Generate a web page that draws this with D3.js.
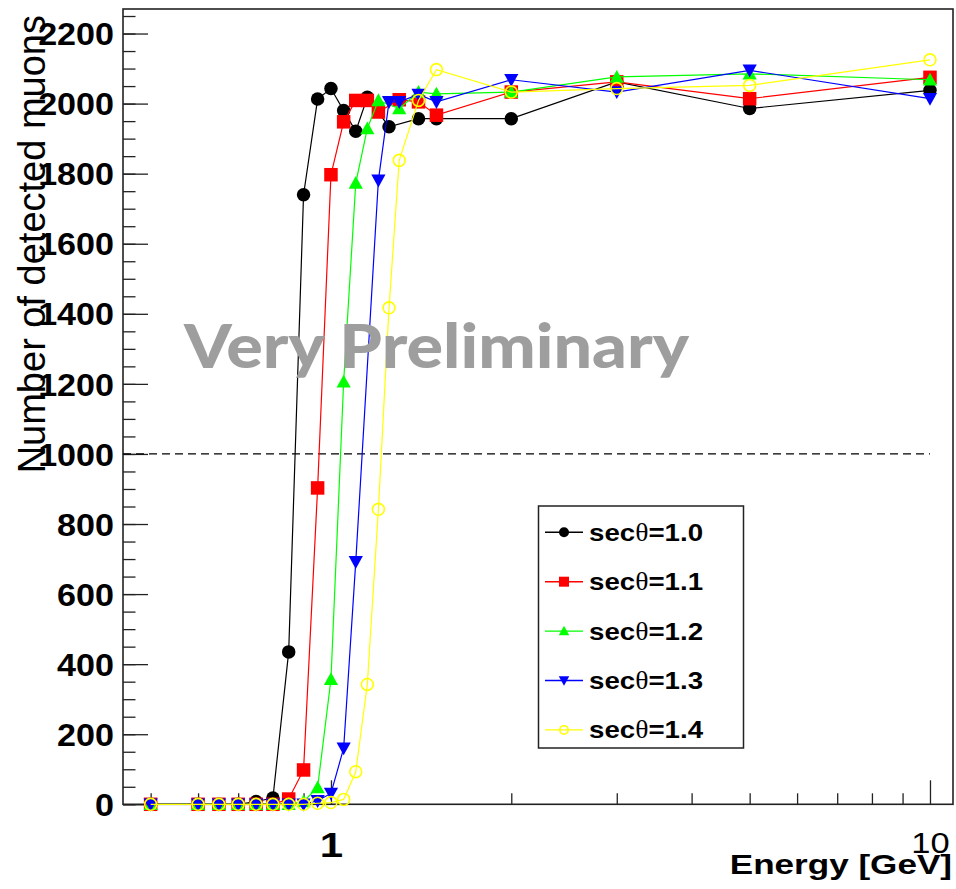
<!DOCTYPE html>
<html>
<head>
<meta charset="utf-8">
<script src="https://cdn.jsdelivr.net/npm/d3@7"></script>
<style>
  html, body { margin: 0; padding: 0; background: #fff; }
  svg { display: block; }
</style>
</head>
<body>
<svg id="chart" width="956" height="889"></svg>
<script>
// Detected muon counts versus muon energy for five zenith angles (sec θ)
const seriesNames = ["secθ=1.0", "secθ=1.1", "secθ=1.2", "secθ=1.3", "secθ=1.4"];
const seriesColors = ["#000000", "#ff0000", "#00ff00", "#0000ff", "#ffff00"];
const seriesMarkers = ["circle", "square", "triangleUp", "triangleDown", "openCircle"];

const energy10 = [0.5, 0.6, 0.65, 0.7, 0.75, 0.8, 0.85, 0.9, 0.95, 1.0, 1.05, 1.1, 1.15, 1.25, 1.4, 1.5, 2, 3, 5, 10];
const counts10 = [0, 0, 0, 0, 8, 18, 435, 1740, 2013, 2043, 1980, 1921, 2018, 1934, 1957, 1957, 1957, 2062, 1986, 2038];

const energy11 = [0.5, 0.6, 0.65, 0.7, 0.75, 0.8, 0.85, 0.9, 0.95, 1.0, 1.05, 1.1, 1.15, 1.2, 1.3, 1.4, 1.5, 2, 3, 5, 10];
const counts11 = [0, 0, 0, 0, 0, 0, 15, 98, 903, 1797, 1948, 2009, 2009, 1976, 2011, 2005, 1967, 2033, 2062, 2014, 2075];

const energy12 = [0.5, 0.6, 0.65, 0.7, 0.75, 0.8, 0.85, 0.9, 0.95, 1.0, 1.05, 1.1, 1.15, 1.2, 1.3, 1.4, 1.5, 2, 3, 5, 10];
const counts12 = [0, 0, 0, 0, 0, 0, 0, 8, 48, 357, 1206, 1773, 1929, 2009, 1986, 2033, 2028, 2033, 2076, 2085, 2068];

const energy13 = [0.5, 0.6, 0.65, 0.7, 0.75, 0.8, 0.85, 0.9, 0.95, 1.0, 1.05, 1.1, 1.2, 1.25, 1.3, 1.4, 1.5, 2, 3, 5, 10];
const counts13 = [0, 0, 0, 0, 0, 0, 0, 0, 10, 31, 160, 692, 1781, 2005, 2005, 2026, 2005, 2068, 2033, 2095, 2014];

const energy14 = [0.5, 0.6, 0.65, 0.7, 0.75, 0.8, 0.85, 0.9, 0.95, 1.0, 1.05, 1.1, 1.15, 1.2, 1.25, 1.3, 1.4, 1.5, 2, 3, 5, 10];
const counts14 = [0, 0, 0, 0, 0, 0, 0, 0, 3, 5, 14, 93, 342, 842, 1417, 1838, 2009, 2097, 2033, 2043, 2052, 2125];

const yMajorTicks = [0, 200, 400, 600, 800, 1000, 1200, 1400, 1600, 1800, 2000, 2200];
const yMinorTicks = d3.range(0, 2251, 50);
const xMinorTicks = [0.5, 0.6, 0.7, 0.8, 0.9, 2, 3, 4, 5, 6, 7, 8, 9];
const xMajorTicks = [1, 10];
const thresholdLevel = 1000;

const xTitle = "Energy [GeV]";
const yTitle = "Number of detected muons";
const stampText = "Very Preliminary";

const seriesData = [
  { energy: energy10, counts: counts10 },
  { energy: energy11, counts: counts11 },
  { energy: energy12, counts: counts12 },
  { energy: energy13, counts: counts13 },
  { energy: energy14, counts: counts14 }
].map((s, i) => ({
  name: seriesNames[i], color: seriesColors[i], marker: seriesMarkers[i],
  points: s.energy.map((e, j) => ({ e, n: s.counts[j] }))
}));

// ---- layout ----
const svg = d3.select("#chart");
const frame = { left: 123, right: 953, top: 9, bottom: 804.3 };

const x = d3.scaleLog().domain([0.4496, 10.925]).range([frame.left, frame.right]);
const y = d3.scaleLinear().domain([0, 2270]).range([frame.bottom, frame.top]);

const FONT = "'Liberation Sans', Arial, Helvetica, sans-serif";

// ---- axes ----
const yMinorAxis = d3.axisLeft(y).tickValues(yMinorTicks).tickSizeInner(-12.5).tickSizeOuter(0).tickFormat("");
const yMajorAxis = d3.axisLeft(y).tickValues(yMajorTicks).tickSizeInner(-25).tickSizeOuter(0)
  .tickPadding(8).tickFormat(d3.format("d"));

const gyMinor = svg.append("g").attr("transform", `translate(${frame.left},0)`).call(yMinorAxis);
const gyMajor = svg.append("g").attr("transform", `translate(${frame.left},0)`).call(yMajorAxis);

const xMinorAxis = d3.axisBottom(x).tickValues(xMinorTicks).tickSizeInner(-11).tickSizeOuter(0).tickFormat("");
const xMajorAxis = d3.axisBottom(x).tickValues(xMajorTicks).tickSizeInner(-24).tickSizeOuter(0).tickFormat(d3.format("d"));

const gxMinor = svg.append("g").attr("transform", `translate(0,${frame.bottom})`).call(xMinorAxis);
const gxMajor = svg.append("g").attr("transform", `translate(0,${frame.bottom})`).call(xMajorAxis);

[gyMinor, gyMajor, gxMinor, gxMajor].forEach(g => {
  g.select(".domain").remove();
  g.selectAll(".tick line").attr("stroke", "#222").attr("stroke-width", 1.3);
});

gyMajor.selectAll(".tick text")
  .attr("x", null)
  .attr("dy", "0.36em")
  .attr("transform", "translate(-9,0) scale(1.1,1)")
  .attr("font-family", FONT)
  .attr("font-weight", "bold")
  .attr("font-size", 31)
  .attr("fill", "#000");

gxMajor.selectAll(".tick text")
  .attr("y", null).attr("dy", null)
  .attr("font-family", FONT)
  .attr("fill", "#000")
  .each(function (d) {
    const t = d3.select(this);
    if (d === 1) {
      t.attr("font-weight", "bold").attr("font-size", 35)
       .attr("transform", "translate(0,53) scale(1.2,1)");
    } else {
      t.attr("font-weight", "normal").attr("font-size", 30)
       .attr("transform", "translate(0,49) scale(1.15,1)");
    }
  });

// ---- frame ----
svg.append("rect")
  .attr("x", frame.left).attr("y", frame.top)
  .attr("width", frame.right - frame.left).attr("height", frame.bottom - frame.top)
  .attr("fill", "none").attr("stroke", "#222").attr("stroke-width", 1.6);

// ---- threshold line ----
svg.append("line")
  .attr("x1", frame.left).attr("x2", x(10))
  .attr("y1", y(thresholdLevel)).attr("y2", y(thresholdLevel))
  .attr("stroke", "#000").attr("stroke-width", 1.2)
  .attr("stroke-dasharray", "8,5");

// ---- markers ----
function drawMarker(g, type, color, cx, cy, size) {
  const r = size / 2;
  if (type === "circle") {
    g.append("circle").attr("cx", cx).attr("cy", cy).attr("r", r).attr("fill", color);
  } else if (type === "openCircle") {
    g.append("circle").attr("cx", cx).attr("cy", cy).attr("r", r - 0.8)
      .attr("fill", "none").attr("stroke", color).attr("stroke-width", 1.6);
  } else if (type === "square") {
    g.append("rect").attr("x", cx - r).attr("y", cy - r).attr("width", size).attr("height", size).attr("fill", color);
  } else if (type === "triangleUp") {
    g.append("path").attr("d", `M${cx},${cy - r * 1.05}L${cx + r * 1.05},${cy + r * 0.85}L${cx - r * 1.05},${cy + r * 0.85}Z`).attr("fill", color);
  } else if (type === "triangleDown") {
    g.append("path").attr("d", `M${cx},${cy + r * 1.05}L${cx + r * 1.05},${cy - r * 0.85}L${cx - r * 1.05},${cy - r * 0.85}Z`).attr("fill", color);
  }
}

// ---- series ----
const line = d3.line().x(d => x(d.e)).y(d => y(d.n));
seriesData.forEach(s => {
  const g = svg.append("g");
  g.append("path").datum(s.points)
    .attr("d", line).attr("fill", "none")
    .attr("stroke", s.color).attr("stroke-width", 1.2);
  s.points.forEach(p => drawMarker(g, s.marker, s.color, x(p.e), y(p.n), 13.5));
});

// ---- legend ----
const legend = svg.append("g");
const lg = { x: 538.5, y: 506, w: 205, h: 242, first: 532.3, step: 49.4 };
legend.append("rect")
  .attr("x", lg.x).attr("y", lg.y).attr("width", lg.w).attr("height", lg.h)
  .attr("fill", "#fff").attr("stroke", "#222").attr("stroke-width", 1.5);
seriesData.forEach((s, i) => {
  const cy = lg.first + i * lg.step;
  legend.append("line").attr("x1", 545).attr("x2", 583).attr("y1", cy).attr("y2", cy)
    .attr("stroke", s.color).attr("stroke-width", 1.4);
  drawMarker(legend, s.marker, s.color, 564, cy, 10);
  const parts = s.name.split("θ");
  const t = legend.append("text")
    .attr("transform", `translate(589,${cy + 8.5}) scale(1.13,1)`)
    .attr("font-family", FONT).attr("font-weight", "bold").attr("font-size", 24.5).attr("fill", "#000");
  t.append("tspan").text(parts[0]);
  t.append("tspan").attr("font-family", "'Liberation Serif', 'Times New Roman', serif")
    .attr("font-weight", "normal").text("θ");
  t.append("tspan").text(parts[1]);
});

// ---- axis titles ----
svg.append("text")
  .attr("transform", "translate(952,874) scale(1.3,1)")
  .attr("text-anchor", "end")
  .attr("font-family", FONT).attr("font-weight", "bold").attr("font-size", 27)
  .attr("fill", "#000").text(xTitle);

svg.append("text")
  .attr("transform", "translate(45,15) rotate(-90)")
  .attr("text-anchor", "end")
  .attr("font-family", FONT).attr("font-size", 38)
  .attr("fill", "#000").text(yTitle);

// ---- stamp ----
svg.append("text")
  .attr("x", 184).attr("y", 368)
  .attr("textLength", 505).attr("lengthAdjust", "spacingAndGlyphs")
  .attr("font-family", "Lato, 'Open Sans', sans-serif").attr("font-weight", 900).attr("font-size", 60)
  .attr("fill", "#9e9e9e").text(stampText);
</script>
</body>
</html>
